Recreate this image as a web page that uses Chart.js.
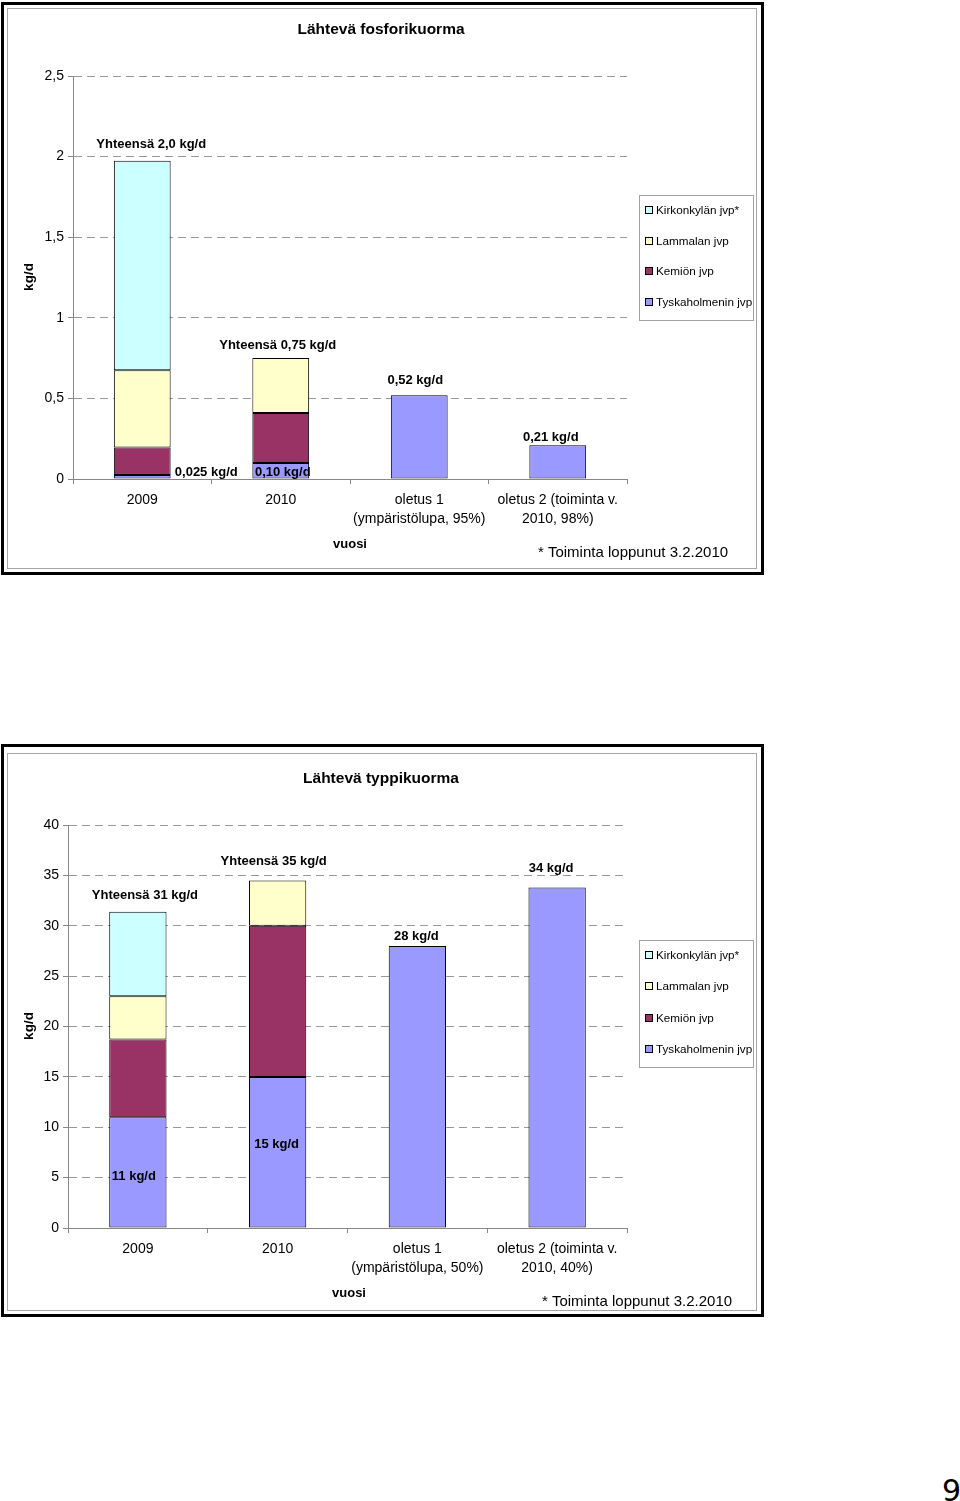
<!DOCTYPE html>
<html>
<head>
<meta charset="utf-8">
<script src="https://cdn.jsdelivr.net/npm/chart.js@4.4.1/dist/chart.umd.min.js"></script>
<style>
  body { margin: 0; background: #fff; width: 960px; height: 1501px; position: relative; overflow: hidden; }
  .frame { position: absolute; left: 1px; width: 763px; height: 573px; border: 3px solid #000; box-sizing: border-box; }
  .inner { position: absolute; left: 7px; width: 750px; height: 561px; border: 1px solid #a6a6a6; box-sizing: border-box; }
  .wrap { position: absolute; left: 0; width: 765px; height: 580px; }
  #page { position: absolute; left: 942px; top: 1476px; font: 30px "DejaVu Sans", sans-serif; line-height: 1; }
</style>
</head>
<body>
<div class="frame" style="top:2px"></div>
<div class="inner" style="top:8px"></div>
<div class="wrap" style="top:0"><canvas id="fosfori" width="765" height="580"></canvas></div>

<div class="frame" style="top:744px"></div>
<div class="inner" style="top:753px; height:558px"></div>
<div class="wrap" style="top:749px"><canvas id="typpi" width="765" height="580"></canvas></div>

<div id="page">9</div>

<script>
// --- data ---
const seriesNames = ["Tyskaholmenin jvp", "Kemiön jvp", "Lammalan jvp", "Kirkonkylän jvp*"];
const seriesColors = ["#9999FF", "#993366", "#FFFFCC", "#CCFFFF"];

// fosfori (kg/d)
const pCategories = ["2009", "2010", ["oletus 1", "(ympäristölupa, 95%)"], ["oletus 2 (toiminta v.", "2010, 98%)"]];
const pTyskaholmen = [0.025, 0.10, 0.52, 0.21];
const pKemio       = [0.17, 0.31, null, null];
const pLammala     = [0.48, 0.34, null, null];
const pKirkonkyla  = [1.30, null, null, null];
const pLabels = ["Yhteensä 2,0 kg/d", "0,025 kg/d", "0,10 kg/d", "Yhteensä 0,75 kg/d", "0,52 kg/d", "0,21 kg/d"];

// typpi (kg/d)
const nCategories = ["2009", "2010", ["oletus 1", "(ympäristölupa, 50%)"], ["oletus 2 (toiminta v.", "2010, 40%)"]];
const nTyskaholmen = [11, 15, 28, 33.8];
const nKemio       = [7.7, 15, null, null];
const nLammala     = [4.3, 4.5, null, null];
const nKirkonkyla  = [8.4, null, null, null];
const nLabels = ["Yhteensä 31 kg/d", "Yhteensä 35 kg/d", "28 kg/d", "34 kg/d", "11 kg/d", "15 kg/d"];

// where each label sits: category, anchored at stack top or bar base, nudged
const pPlacement = [
  { cat: 0, at: "top", dx: 9, dy: -16 }, { cat: 0, at: "base", dx: 64, dy: -6 },
  { cat: 1, at: "base", dx: 2, dy: -6 }, { cat: 1, at: "top", dx: -3, dy: -13 },
  { cat: 2, at: "top", dx: -4, dy: -15 }, { cat: 3, at: "top", dx: -7, dy: -8 },
];
const nPlacement = [
  { cat: 0, at: "top", dx: 7, dy: -16 }, { cat: 1, at: "top", dx: -4, dy: -19 },
  { cat: 2, at: "top", dx: -1, dy: -9 }, { cat: 3, at: "top", dx: -6, dy: -19 },
  { cat: 0, at: "base", dx: -4, dy: -51 }, { cat: 1, at: "base", dx: -1, dy: -83 },
];

const FONT = '"Liberation Sans", Arial, sans-serif';
const comma = (v) => String(v).replace(".", ",");

// title, axis titles, legend, footnote and bar labels (Excel-style layout)
const decorations = {
  id: "decorations",
  afterDatasetsDraw(chart, args, o) {
    const ctx = chart.ctx;
    ctx.save();
    ctx.fillStyle = "#000";
    ctx.textBaseline = "middle";

    ctx.textAlign = "center";
    ctx.font = "bold 15.5px " + FONT;
    ctx.fillText(o.title, 381, 30);
    ctx.font = "bold 13px " + FONT;
    ctx.fillText("vuosi", o.vuosiX, 544);
    ctx.font = "15px " + FONT;
    ctx.fillText("* Toiminta loppunut 3.2.2010", o.footX, 553);

    ctx.save();
    ctx.translate(29, 277);
    ctx.rotate(-Math.PI / 2);
    ctx.font = "bold 13.5px " + FONT;
    ctx.fillText("kg/d", 0, 0);
    ctx.restore();

    // bar labels
    ctx.font = "bold 13px " + FONT;
    o.placement.forEach((p, k) => {
      let x = 0, y = Infinity, base = 0;
      chart.data.datasets.forEach((ds, i) => {
        const el = chart.getDatasetMeta(i).data[p.cat];
        if (ds.data[p.cat] == null || !el) return;
        x = el.x;
        y = Math.min(y, el.y);
        base = Math.max(base, el.base);
      });
      const ay = p.at === "top" ? y : base;
      ctx.fillText(o.labels[k], x + p.dx, ay + p.dy);
    });

    // legend box
    const top = o.legendTop, h = o.legendH;
    ctx.fillStyle = "#fff";
    ctx.fillRect(639.5, top + 0.5, 114, h);
    ctx.strokeStyle = "#a0a0a0";
    ctx.lineWidth = 1;
    ctx.strokeRect(639.5, top + 0.5, 114, h);
    const step = (h - 33) / 3;
    ctx.textAlign = "left";
    ctx.font = "11.7px " + FONT;
    const dsets = chart.data.datasets.slice().reverse();
    dsets.forEach((ds, k) => {
      const cy = Math.round(top + 15 + k * step);
      ctx.fillStyle = ds.backgroundColor;
      ctx.fillRect(645.5, cy - 3.5, 7, 7);
      ctx.strokeStyle = "#000";
      ctx.strokeRect(645.5, cy - 3.5, 7, 7);
      ctx.fillStyle = "#000";
      ctx.fillText(ds.label, 656, cy + 1);
    });
    ctx.restore();
  },
};

function makeChart(id, cats, series, yMax, yStep, plotLeft, deco) {
  const datasets = series.map((data, i) => ({
    label: seriesNames[i],
    data: data,
    backgroundColor: seriesColors[i],
    borderColor: "#000",
    borderWidth: 1,
    borderSkipped: false,
    barPercentage: 0.41,
    categoryPercentage: 1,
  }));
  return new Chart(document.getElementById(id), {
    type: "bar",
    data: { labels: cats, datasets },
    options: {
      responsive: false,
      animation: false,
      devicePixelRatio: 1,
      layout: { padding: { top: 76, right: 138, bottom: 41, left: 0 } },
      plugins: { legend: { display: false }, tooltip: { enabled: false }, decorations: deco },
      scales: {
        x: {
          stacked: true,
          grid: { drawOnChartArea: false, drawTicks: true, tickLength: 5, color: "#888" },
          border: { color: "#888" },
          ticks: { color: "#000", font: { family: FONT, size: 14, lineHeight: 1.36 }, padding: 7, maxRotation: 0, autoSkip: false },
          afterFit: (s) => { s.height = 60; },
        },
        y: {
          stacked: true,
          min: 0,
          max: yMax,
          ticks: { stepSize: yStep, color: "#000", font: { family: FONT, size: 14 }, padding: 4, callback: (v) => comma(v) },
          grid: { color: "#999", tickLength: 5, tickColor: "#888" },
          border: { color: "#888", dash: [8, 5] },
          afterFit: (s) => { s.width = plotLeft; },
        },
      },
    },
    plugins: [decorations],
  });
}

makeChart("fosfori", pCategories, [pTyskaholmen, pKemio, pLammala, pKirkonkyla], 2.5, 0.5, 73, {
  title: "Lähtevä fosforikuorma", labels: pLabels, placement: pPlacement,
  footX: 633, vuosiX: 350, legendTop: 195, legendH: 125,
});
makeChart("typpi", nCategories, [nTyskaholmen, nKemio, nLammala, nKirkonkyla], 40, 5, 68, {
  title: "Lähtevä typpikuorma", labels: nLabels, placement: nPlacement,
  footX: 637, vuosiX: 349, legendTop: 191, legendH: 127,
});
</script>
</body>
</html>
